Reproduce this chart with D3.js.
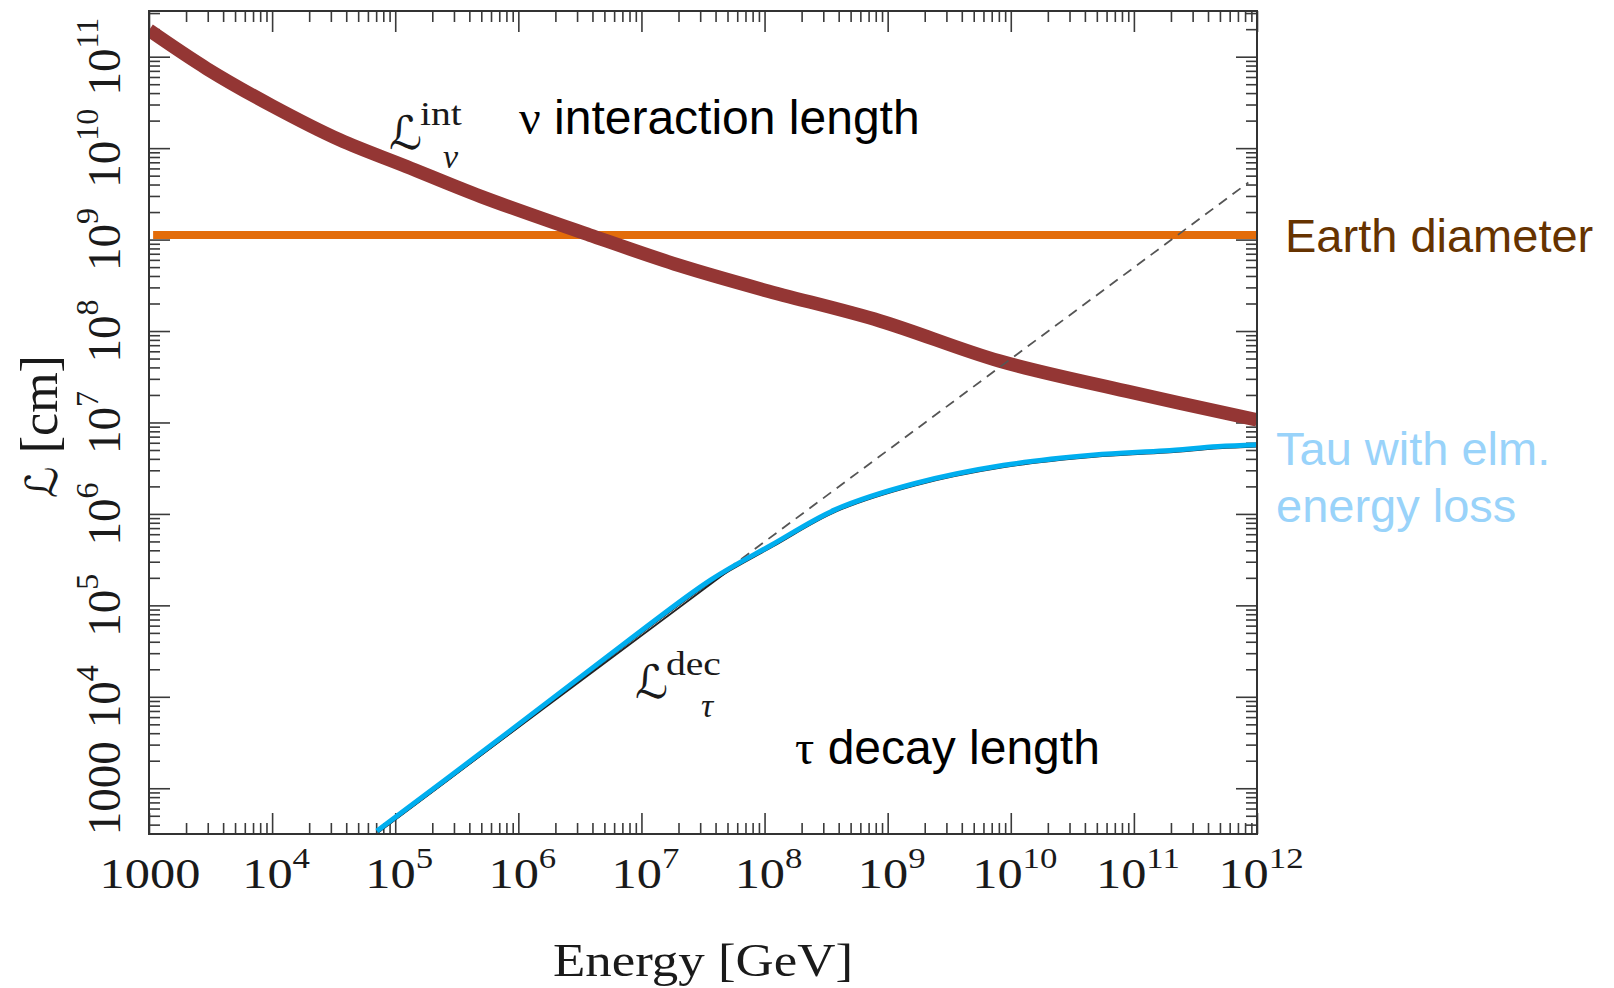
<!DOCTYPE html>
<html><head><meta charset="utf-8">
<script src="https://cdn.jsdelivr.net/npm/d3@7"></script>
<style>body{margin:0;background:#fff;} svg{display:block;}</style>
</head><body>
<svg id="chart" width="1614" height="988"></svg>
<script>
// ---- data ----
const energyNu = [1e3, 2.95e3, 1e4, 3.55e4, 1.23e5, 5e5, 3.8e6, 2.04e7, 1e8, 8.7e8, 8.1e9, 8.7e10, 1e12];
const lengthNu = [1.95e11, 7.4e10, 2.9e10, 1.23e10, 6.3e9, 2.95e9, 1.12e9, 5.2e8, 2.8e8, 1.29e8, 4.7e7, 2.2e7, 1.07e7];

const energyTau = [7.1e4, 6.3e5, 7.6e6, 3.66e7, 1.15e8, 3.8e8, 1.66e9, 8.7e9, 4.7e10, 1.78e11, 4.8e11, 1e12];
const lengthTau = [340, 3.1e3, 4.0e4, 1.9e5, 4.6e5, 1.12e6, 2.15e6, 3.4e6, 4.4e6, 4.9e6, 5.45e6, 5.7e6];

const energyDecay = [7.1e4, 5e7, 8.5e11];
const lengthDecay = [345, 2.48e5, 4.2e9];

const earthDiameter = 1.12e9;

const xDomain = [1e3, 1e12];
const yDomain = [316, 3.16e11];
const xTickValues = [1e3, 1e4, 1e5, 1e6, 1e7, 1e8, 1e9, 1e10, 1e11, 1e12];
const xTickBase = ["1000", "10", "10", "10", "10", "10", "10", "10", "10", "10"];
const xTickExp = ["", "4", "5", "6", "7", "8", "9", "10", "11", "12"];
const yTickValues = [1e3, 1e4, 1e5, 1e6, 1e7, 1e8, 1e9, 1e10, 1e11];
const yTickBase = ["1000", "10", "10", "10", "10", "10", "10", "10", "10"];
const yTickExp = ["", "4", "5", "6", "7", "8", "9", "10", "11"];

// ---- layout ----
const L = 149, R = 1257, T = 11, B = 834;
const svg = d3.select("#chart");
const x = d3.scaleLog().domain(xDomain).range([L, R]);
const y = d3.scaleLog().domain(yDomain).range([B, T]);

function minorTicks(dom) {
  const out = [];
  for (let e = Math.floor(Math.log10(dom[0])); e <= Math.ceil(Math.log10(dom[1])); e++) {
    for (let k = 2; k <= 9; k++) {
      const v = k * Math.pow(10, e);
      if (v > dom[0] && v < dom[1]) out.push(v);
    }
  }
  return out;
}
const xMinor = minorTicks(xDomain), yMinor = minorTicks(yDomain);
const tickColor = "#3a3a3a";

function drawAxis(gen, values, size, tr) {
  const g = svg.append("g").attr("transform", tr)
    .call(gen.tickValues(values).tickSize(size).tickFormat(""));
  g.select(".domain").remove();
  g.selectAll("line").attr("stroke", tickColor).attr("stroke-width", 1.6);
}
drawAxis(d3.axisBottom(x), xMinor, -11, `translate(0,${B})`);
drawAxis(d3.axisBottom(x), xTickValues, -21, `translate(0,${B})`);
drawAxis(d3.axisTop(x), xMinor, -11, `translate(0,${T})`);
drawAxis(d3.axisTop(x), xTickValues, -21, `translate(0,${T})`);
drawAxis(d3.axisLeft(y), yMinor, -11, `translate(${L},0)`);
drawAxis(d3.axisLeft(y), yTickValues, -21, `translate(${L},0)`);
drawAxis(d3.axisRight(y), yMinor, -11, `translate(${R},0)`);
drawAxis(d3.axisRight(y), yTickValues, -21, `translate(${R},0)`);

// clip
svg.append("defs").append("clipPath").attr("id", "plotclip")
  .append("rect").attr("x", L).attr("y", T).attr("width", R - L).attr("height", B - T);
const plot = svg.append("g").attr("clip-path", "url(#plotclip)");

const line = d3.line().x(d => x(d[0])).y(d => y(d[1])).curve(d3.curveCatmullRom.alpha(0.5));
const straight = d3.line().x(d => x(d[0])).y(d => y(d[1]));
const nuData = energyNu.map((e, i) => [e, lengthNu[i]]);
const tauData = energyTau.map((e, i) => [e, lengthTau[i]]);
const decayData = energyDecay.map((e, i) => [e, lengthDecay[i]]);

// Earth diameter
plot.append("line").attr("x1", x(1.08e3)).attr("x2", x(xDomain[1]))
  .attr("y1", y(earthDiameter)).attr("y2", y(earthDiameter))
  .attr("stroke", "#E36C0A").attr("stroke-width", 8);

// neutrino interaction length
plot.append("path").attr("d", line(nuData)).attr("fill", "none")
  .attr("stroke", "#943634").attr("stroke-width", 13.5);

// tau decay length (black original) under blue
plot.append("path").attr("d", straight(decayData.slice(0, 2)))
  .attr("fill", "none").attr("stroke", "#222").attr("stroke-width", 1.8).attr("transform", "translate(1,1.5)");
plot.append("path").attr("d", line(tauData)).attr("fill", "none")
  .attr("stroke", "#222").attr("stroke-width", 2.2).attr("transform", "translate(0.8,1.6)");
plot.append("path").attr("d", straight(decayData.slice(1)))
  .attr("fill", "none").attr("stroke", "#555").attr("stroke-width", 1.8).attr("stroke-dasharray", "10,7");

// tau with elm energy loss
plot.append("path").attr("d", line(tauData)).attr("fill", "none")
  .attr("stroke", "#00AEEF").attr("stroke-width", 5);

// frame
svg.append("rect").attr("x", L).attr("y", T).attr("width", R - L).attr("height", B - T)
  .attr("fill", "none").attr("stroke", "#333").attr("stroke-width", 2);

// tick labels
const serif = "'Liberation Serif', 'DejaVu Serif', serif";
const scriptFont = "'DejaVu Serif', 'DejaVu Sans', serif";
const xl = svg.append("g").selectAll("g").data(xTickValues).join("g")
  .attr("transform", (d, i) => `translate(${x(d) + (xTickExp[i] ? 4 : 1)},888) scale(1.2,1)`);
const xt = xl.append("text").attr("text-anchor", "middle").attr("font-family", serif)
  .attr("font-size", 42).attr("fill", "#1a1a1a");
xt.append("tspan").text((d, i) => xTickBase[i]);
xt.append("tspan").attr("dy", -20).attr("font-size", 29).text((d, i) => xTickExp[i]);

const yl = svg.append("g").selectAll("g").data(yTickValues).join("g")
  .attr("transform", d => `translate(120,${y(d)}) rotate(-90)`);
const yt = yl.append("text").attr("text-anchor", "middle").attr("font-family", serif)
  .attr("font-size", 47).attr("fill", "#1a1a1a");
yt.append("tspan").text((d, i) => yTickBase[i]);
yt.append("tspan").attr("dy", -22).attr("font-size", 32).text((d, i) => yTickExp[i]);

// axis titles
svg.append("text").attr("transform", `translate(${(L + R) / 2},976) scale(1.15,1)`)
  .attr("text-anchor", "middle").attr("font-family", serif).attr("font-size", 46)
  .attr("fill", "#1a1a1a").text("Energy [GeV]");
const yTitle = svg.append("text").attr("transform", `translate(57,${(T + B) / 2 + 4}) rotate(-90)`)
  .attr("text-anchor", "middle").attr("font-family", serif).attr("font-size", 52).attr("fill", "#1a1a1a");
yTitle.append("tspan").attr("font-family", scriptFont).attr("font-size", 44).text("ℒ");
yTitle.append("tspan").text(" [cm]");

// math labels
function mathLabel(x0, yBase, sup, supDx, supDy, sub, subDx, subDy) {
  const g = svg.append("g");
  g.append("text").attr("x", x0).attr("y", yBase).attr("font-family", scriptFont)
    .attr("font-size", 46).attr("fill", "#1a1a1a").text("ℒ");
  g.append("text").attr("x", x0 + supDx).attr("y", yBase + supDy).attr("font-family", serif)
    .attr("font-size", 33).attr("fill", "#1a1a1a").attr("transform-origin", `${x0 + supDx} ${yBase + supDy}`)
    .attr("transform", "scale(1.2,1)").text(sup);
  g.append("text").attr("x", x0 + subDx).attr("y", yBase + subDy).attr("font-family", serif)
    .attr("font-size", 34).attr("font-style", "italic").attr("fill", "#1a1a1a").text(sub);
}
mathLabel(389, 149, "int", 31, -24, "ν", 54, 19);
mathLabel(635, 698, "dec", 31, -23, "τ", 66, 19);

// text annotations
const sans = "'Liberation Sans', Arial, sans-serif";
const t1 = svg.append("text").attr("x", 519).attr("y", 134).attr("font-family", sans).attr("font-size", 48).attr("fill", "#000");
t1.append("tspan").attr("font-family", serif).text("ν");
t1.append("tspan").text(" interaction length");
const t2 = svg.append("text").attr("x", 795).attr("y", 764).attr("font-family", sans).attr("font-size", 48).attr("fill", "#000");
t2.append("tspan").attr("font-family", serif).text("τ");
t2.append("tspan").text(" decay length");
svg.append("text").attr("x", 1285).attr("y", 252).attr("font-family", sans).attr("font-size", 47)
  .attr("fill", "#663300").text("Earth diameter");
svg.append("text").attr("x", 1276).attr("y", 465).attr("font-family", sans).attr("font-size", 47)
  .attr("fill", "#99D3FA").text("Tau with elm.");
svg.append("text").attr("x", 1276).attr("y", 522).attr("font-family", sans).attr("font-size", 47)
  .attr("fill", "#99D3FA").text("energy loss");
</script>
</body></html>
